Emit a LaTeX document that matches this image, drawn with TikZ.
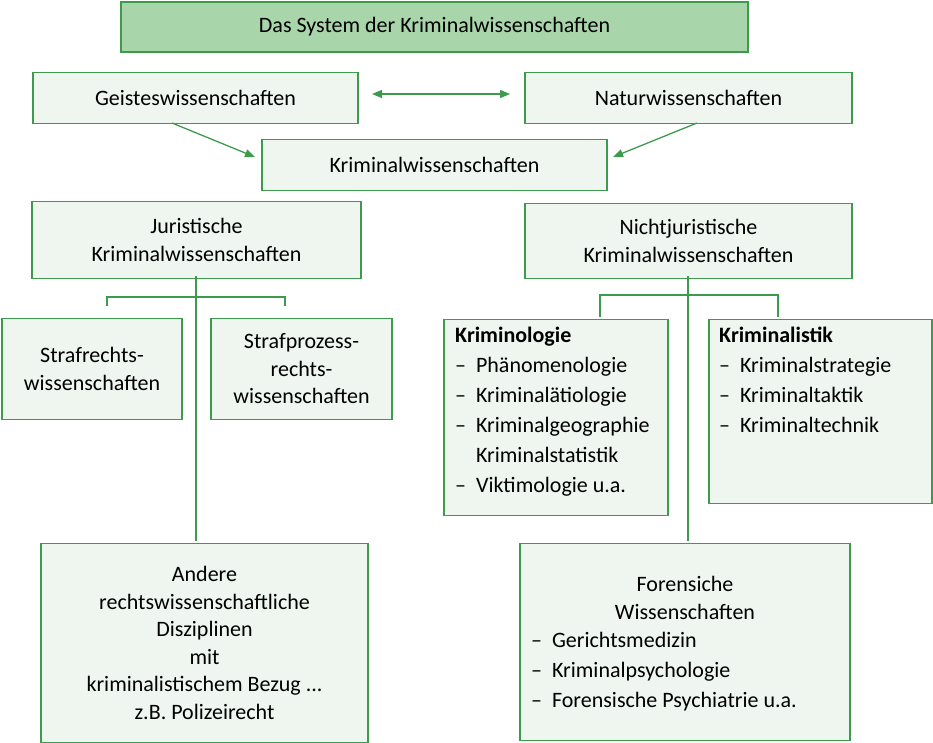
\documentclass[tikz,border=0pt]{standalone}
\usepackage{fontspec}
\setmainfont{Carlito}
\usetikzlibrary{arrows.meta}
\definecolor{bd}{HTML}{3E9A4C}
\definecolor{fl}{HTML}{EEF6EF}
\definecolor{tf}{HTML}{A9D5AB}
\tikzset{
 box/.style={draw=bd,line width=1.3pt,fill=fl,inner sep=0pt,align=center,font=\fontsize{22}{27.5}\selectfont},
 lst/.style={inner sep=0pt,align=left,anchor=north west,font=\fontsize{22}{30}\selectfont},
 ln/.style={draw=bd,line width=1.3pt},
 arr/.style={ln,-{Triangle[length=10pt,width=8pt]}}
}
\newcommand{\bx}[6]{\node[box,minimum width=#3-#2,minimum height=#5-#4] (#1) at ({(#2+#3)/2},{(#4+#5+5)/2}) {#6};}
\newcommand{\dd}{–\hspace{0.45em}}
\begin{document}
\begin{tikzpicture}[x=1pt,y=-1pt]
\useasboundingbox (0,0) rectangle (933,742);
\node[box,fill=tf,minimum width=627,minimum height=50] (t) at (434.5,27) {Das System der Kriminalwissenschaften};
\bx{g}{33}{358}{70}{121}{Geisteswissenschaften}
\bx{n}{525}{852}{70}{121}{Naturwissenschaften}
\bx{k}{262}{607}{137}{188}{Kriminalwissenschaften}
\bx{j}{32}{361}{199}{276}{Juristische\\Kriminalwissenschaften}
\bx{nj}{525}{852}{201}{276}{Nichtjuristische\\Kriminalwissenschaften}
\bx{s1}{2}{182}{316}{417}{Strafrechts-\\wissenschaften}
\bx{s2}{211}{392}{316}{417}{Strafprozess-\\rechts-\\wissenschaften}
\bx{kl}{444}{668}{317}{513}{}
\bx{ks}{709}{932}{317}{501}{}
\bx{a}{41}{368}{541}{740}{Andere\\rechtswissenschaftliche\\Disziplinen\\mit\\kriminalistischem Bezug ...\\z.B. Polizeirecht}
\bx{f}{520}{850}{541}{738}{}
\node[lst] (klt) at (455,327) {\textbf{Kriminologie}\\\dd Phänomenologie\\\dd Kriminalätiologie\\\dd Kriminalgeographie\\\phantom{\dd}Kriminalstatistik\\\dd Viktimologie u.a.};
\node[lst] (kst) at (719,327) {\textbf{Kriminalistik}\\\dd Kriminalstrategie\\\dd Kriminaltaktik\\\dd Kriminaltechnik};
\node[box,draw=none,fill=none,font=\fontsize{22}{28}\selectfont] (ft1) at (685,598) {Forensiche\\Wissenschaften};
\node[lst] (ft2) at (531,632) {\dd Gerichtsmedizin\\\dd Kriminalpsychologie\\\dd Forensische Psychiatrie u.a.};
\draw[ln,{Triangle[length=10pt,width=8pt]}-{Triangle[length=10pt,width=8pt]}] (372,94) coordinate (d1) -- (510,94) coordinate (d2);
\draw[arr] (172,123) -- (255,157);
\draw[arr] (697,123) -- (613,157);
\draw[ln] (196,276) -- (196,541);
\draw[ln] (107,306) -- (107,297) -- (285,297) -- (285,306);
\draw[ln] (688,276) -- (688,541);
\draw[ln] (600,317) -- (600,295) -- (778,295) -- (778,317);
\end{tikzpicture}
\end{document}
